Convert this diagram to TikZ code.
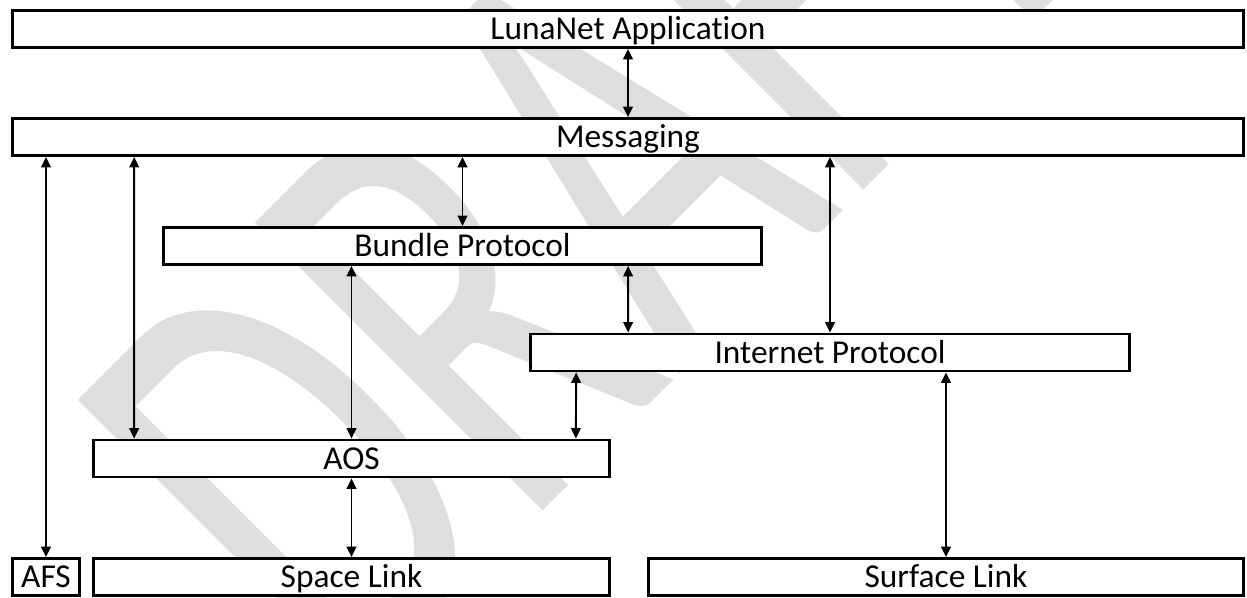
\documentclass[tikz,border=0pt]{standalone}
\usepackage{fontspec}
\setmainfont{Carlito}[Ligatures=NoCommon]
\usetikzlibrary{arrows.meta,calc}

\begin{document}
\begin{tikzpicture}[x=0.02cm,y=-0.02cm,
    layer/.style={draw, fill=white, line width=1.6pt, inner sep=0pt,
      minimum height=0.74cm, text height=12.2pt, text depth=0pt,
      font=\fontsize{19}{22}\selectfont},
    link/.style={{Triangle[length=6pt,width=5.5pt]}-{Triangle[length=6pt,width=5.5pt]}, line width=1.1pt}]
  \useasboundingbox (0,0) rectangle (1247,598);

  % watermark
  \node[anchor=base west, rotate=45, xscale=0.64, inner sep=0pt, text=black!13,
    font=\fontsize{361}{361}\selectfont] (draft) at (346,708) {DRAFT};

  % layers
  \node[layer, minimum width=24.62cm] (app) at (628,29) {LunaNet Application};
  \node[layer, minimum width=24.62cm] (msg) at (628,137) {Messaging};
  \node[layer, minimum width=11.96cm] (bp) at (462.5,246) {Bundle Protocol};
  \node[layer, minimum width=11.98cm] (ip) at (830,352.5) {Internet Protocol};
  \node[layer, minimum width=10.32cm] (aos) at (351.5,458.5) {AOS};
  \node[layer, minimum width=1.34cm] (afs) at (46,577) {AFS};
  \node[layer, minimum width=10.32cm] (sl) at (351.5,577) {Space Link};
  \node[layer, minimum width=11.9cm] (surf) at (946,577) {Surface Link};

  % links
  \draw[link] (app.south) -- (msg.north);
  \draw[link] (msg.south -| afs.north) -- (afs.north);
  \draw[link] ($(msg.south west)+(123,0)$) -- ($(aos.north west)+(42,0)$);
  \draw[link] (msg.south -| bp.north) -- (bp.north);
  \draw[link] (msg.south -| ip.north) -- (ip.north);
  \draw[link] ($(bp.south west)+(466,0)$) -- ($(ip.north west)+(99,0)$);
  \draw[link] (bp.south -| aos.north) -- (aos.north);
  \draw[link] ($(ip.south west)+(47,0)$) -- ($(aos.north east)+(-35,0)$);
  \draw[link] (ip.south -| surf.north) -- (surf.north);
  \draw[link] (aos.south) -- (sl.north);
\end{tikzpicture}
\end{document}
